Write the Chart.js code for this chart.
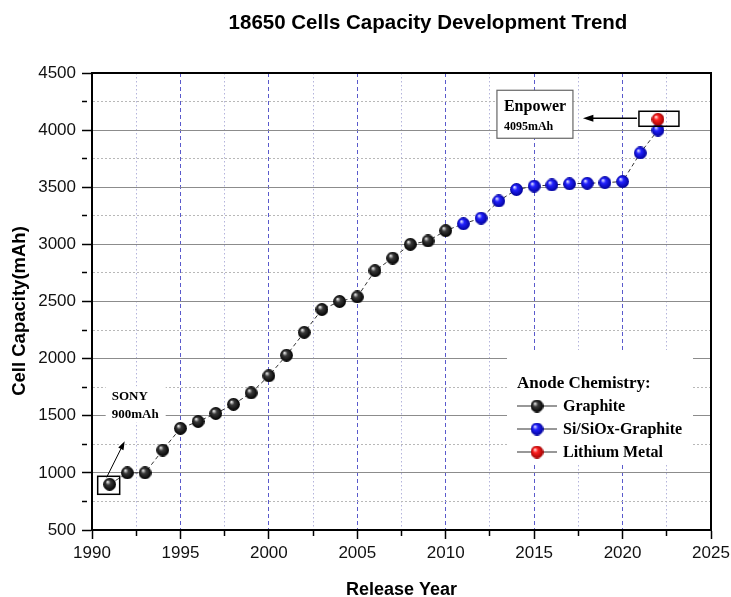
<!DOCTYPE html>
<html>
<head>
<meta charset="utf-8">
<title>18650 Cells Capacity Development Trend</title>
<script src="https://cdn.jsdelivr.net/npm/chart.js@4.4.0/dist/chart.umd.min.js"></script>
<style>
  html, body { margin: 0; padding: 0; background: #fff; }
  #wrap { width: 731px; height: 597px; }
</style>
</head>
<body>
<div id="wrap"><canvas id="trendChart" width="731" height="597"></canvas></div>
<script>
// data
const graphiteYears = [1991, 1992, 1993, 1994, 1995, 1996, 1997, 1998, 1999, 2000,
                       2001, 2002, 2003, 2004, 2005, 2006, 2007, 2008, 2009, 2010];
const graphiteCapacity = [900, 1000, 1000, 1200, 1390, 1450, 1520, 1600, 1700, 1850,
                          2030, 2230, 2430, 2500, 2540, 2770, 2880, 3000, 3030, 3120];
const siliconYears = [2011, 2012, 2013, 2014, 2015, 2016, 2017, 2018, 2019, 2020, 2021, 2022];
const siliconCapacity = [3180, 3230, 3380, 3480, 3510, 3520, 3530, 3535, 3540, 3550, 3800, 4000];
const lithiumYears = [2022];
const lithiumCapacity = [4095];

const seriesNames = ['Graphite', 'Si/SiOx-Graphite', 'Lithium Metal'];
const yearTicks = [1990, 1995, 2000, 2005, 2010, 2015, 2020, 2025];
const capacityTicks = [500, 1000, 1500, 2000, 2500, 3000, 3500, 4000, 4500];

const SANS = 'Arial, "Liberation Sans", sans-serif';
const SERIF = '"Times New Roman", "Liberation Serif", serif';

function toPoints(xs, ys) {
  return xs.map((x, i) => ({x: x, y: ys[i]}));
}

// shaded ball used as point style
function sphere(light, mid, dark) {
  const size = 13, r = 6.4, c = size / 2;
  const cv = document.createElement('canvas');
  cv.width = size; cv.height = size;
  const g = cv.getContext('2d');
  const grad = g.createRadialGradient(c - 2.2, c - 2.6, 0.3, c, c, r);
  grad.addColorStop(0, light);
  grad.addColorStop(0.35, mid);
  grad.addColorStop(1, dark);
  g.fillStyle = grad;
  g.beginPath(); g.arc(c, c, r, 0, Math.PI * 2); g.fill();
  return cv;
}
const balls = [
  sphere('#f0f0f0', '#3a3a3a', '#000000'),
  sphere('#e8e8ff', '#2222ff', '#00009a'),
  sphere('#ffe8e8', '#ff2020', '#a00000')
];

function arrow(ctx, x1, y1, x2, y2, head) {
  const a = Math.atan2(y2 - y1, x2 - x1);
  ctx.beginPath();
  ctx.moveTo(x1, y1);
  ctx.lineTo(x2 - Math.cos(a) * head * 0.8, y2 - Math.sin(a) * head * 0.8);
  ctx.stroke();
  ctx.beginPath();
  ctx.moveTo(x2, y2);
  ctx.lineTo(x2 - head * Math.cos(a - 0.33), y2 - head * Math.sin(a - 0.33));
  ctx.lineTo(x2 - head * Math.cos(a + 0.33), y2 - head * Math.sin(a + 0.33));
  ctx.closePath();
  ctx.fill();
}

const decorations = {
  id: 'decorations',
  afterDraw(chart) {
    const ctx = chart.ctx;
    const area = chart.chartArea;
    const xs = chart.scales.x, ys = chart.scales.y;
    ctx.save();

    // title
    ctx.fillStyle = '#000';
    ctx.font = 'bold 20.5px ' + SANS;
    ctx.textAlign = 'center';
    ctx.textBaseline = 'middle';
    ctx.fillText('18650 Cells Capacity Development Trend', 428, 23);

    // y axis title, sits a little below the axis middle in the original
    ctx.save();
    ctx.translate(20, 311);
    ctx.rotate(-Math.PI / 2);
    ctx.font = 'bold 18.5px ' + SANS;
    ctx.fillText('Cell Capacity(mAh)', 0, 0);
    ctx.restore();

    // top and right frame
    ctx.strokeStyle = '#000';
    ctx.lineWidth = 2;
    ctx.beginPath();
    ctx.moveTo(area.left, area.top);
    ctx.lineTo(area.right, area.top);
    ctx.lineTo(area.right, area.bottom);
    ctx.stroke();

    // SONY note
    const sx = xs.getPixelForValue(graphiteYears[0]);
    const sy = ys.getPixelForValue(graphiteCapacity[0]);
    ctx.fillStyle = '#fff';
    ctx.fillRect(sx - 4, sy - 98, 60, 36);
    ctx.strokeStyle = '#000';
    ctx.lineWidth = 1.5;
    ctx.strokeRect(sx - 12, sy - 8, 22, 18);
    ctx.fillStyle = '#000';
    ctx.lineWidth = 1;
    arrow(ctx, sx - 3, sy - 7, sx + 15, sy - 43, 9);
    ctx.font = 'bold 13px ' + SERIF;
    ctx.textAlign = 'left';
    ctx.textBaseline = 'alphabetic';
    ctx.fillText('SONY', sx + 2, sy - 84);
    ctx.fillText('900mAh', sx + 2, sy - 66);

    // Enpower note
    const ex = xs.getPixelForValue(lithiumYears[0]);
    const ey = ys.getPixelForValue(lithiumCapacity[0]);
    ctx.lineWidth = 1.5;
    ctx.strokeStyle = '#000';
    ctx.strokeRect(ex - 19, ey - 8, 40, 15);
    ctx.fillStyle = '#fff';
    ctx.fillRect(ex - 161, ey - 29, 76, 48);
    ctx.strokeStyle = '#666';
    ctx.lineWidth = 1.2;
    ctx.strokeRect(ex - 161, ey - 29, 76, 48);
    ctx.strokeStyle = '#000';
    ctx.fillStyle = '#000';
    ctx.lineWidth = 1.5;
    arrow(ctx, ex - 21, ey - 1, ex - 75, ey - 1, 11);
    ctx.font = 'bold 16px ' + SERIF;
    ctx.fillText('Enpower', ex - 154, ey - 8);
    ctx.font = 'bold 12px ' + SERIF;
    ctx.fillText('4095mAh', ex - 154, ey + 11);

    // legend
    const lx = area.right - 204, ly = 350;
    ctx.fillStyle = '#fff';
    ctx.fillRect(lx, ly, 186, 115);
    ctx.fillStyle = '#000';
    ctx.font = 'bold 17px ' + SERIF;
    ctx.fillText('Anode Chemistry:', lx + 10, ly + 38);
    ctx.font = 'bold 16px ' + SERIF;
    ctx.textBaseline = 'middle';
    seriesNames.forEach((name, i) => {
      const cy = ly + 56 + i * 23;
      ctx.strokeStyle = '#333';
      ctx.lineWidth = 1.2;
      ctx.beginPath();
      ctx.moveTo(lx + 10, cy); ctx.lineTo(lx + 50, cy);
      ctx.stroke();
      ctx.drawImage(balls[i], lx + 30 - 6.5, cy - 6.5);
      ctx.fillText(name, lx + 56, cy + 1);
    });
    ctx.restore();
  }
};

const isMajorYear = v => yearTicks.includes(v);
const isMajorCap = v => capacityTicks.includes(v);

new Chart(document.getElementById('trendChart'), {
  type: 'scatter',
  data: {
    datasets: [
      {
        label: seriesNames[2],
        data: toPoints(lithiumYears, lithiumCapacity),
        pointStyle: balls[2],
        order: 1
      },
      {
        label: seriesNames[1],
        data: toPoints(siliconYears, siliconCapacity),
        pointStyle: balls[1],
        order: 2
      },
      {
        label: seriesNames[0],
        data: toPoints(graphiteYears, graphiteCapacity),
        pointStyle: balls[0],
        order: 3
      },
      {
        label: 'trend',
        type: 'line',
        data: toPoints(graphiteYears.concat(siliconYears), graphiteCapacity.concat(siliconCapacity)),
        borderColor: '#333',
        borderWidth: 1,
        borderDash: [4, 3],
        pointRadius: 0,
        fill: false,
        order: 10
      }
    ]
  },
  options: {
    responsive: false,
    animation: false,
    layout: { padding: { top: 73, right: 20, left: 0, bottom: -4 } },
    plugins: {
      legend: { display: false },
      tooltip: { enabled: false }
    },
    scales: {
      x: {
        type: 'linear',
        position: 'bottom',
        min: 1990,
        max: 2025,
        afterFit: s => { s.height = 71; s.paddingLeft = 0; s.paddingRight = 0; },
        ticks: {
          stepSize: 2.5,
          autoSkip: false,
          maxRotation: 0,
          padding: 4,
          color: '#111',
          font: { family: SANS, size: 17 },
          callback: v => isMajorYear(v) ? String(v) : ''
        },
        grid: {
          color: c => c.tick && isMajorYear(c.tick.value) ? '#5a5acc' : '#b4b4dc',
          lineWidth: 1,
          tickColor: '#000',
          tickWidth: 1.5,
          tickLength: 9,
          tickBorderDash: c => c.tick && isMajorYear(c.tick.value) ? [] : [5, 30]
        },
        border: {
          color: '#000',
          width: 2,
          dash: c => c.tick ? (isMajorYear(c.tick.value) ? [4, 3] : [1.5, 2.5]) : []
        },
        title: {
          display: true,
          text: 'Release Year',
          color: '#000',
          font: { family: SANS, size: 18, weight: 'bold' },
          padding: { top: 0, bottom: 0 }
        }
      },
      y: {
        type: 'linear',
        min: 500,
        max: 4500,
        afterFit: s => { s.width = 92; },
        ticks: {
          stepSize: 250,
          autoSkip: false,
          padding: 6,
          color: '#111',
          font: { family: SANS, size: 17 },
          callback: v => isMajorCap(v) ? String(v) : ''
        },
        grid: {
          color: c => c.tick && isMajorCap(c.tick.value) ? '#8c8c8c' : '#b8b8b8',
          lineWidth: 1,
          tickColor: '#000',
          tickWidth: 1.5,
          tickLength: 10,
          tickBorderDash: c => c.tick && isMajorCap(c.tick.value) ? [] : [5, 30]
        },
        border: {
          color: '#000',
          width: 2,
          dash: c => c.tick ? (isMajorCap(c.tick.value) ? [] : [2, 2]) : []
        }
      }
    }
  },
  plugins: [decorations]
});
</script>
</body>
</html>
